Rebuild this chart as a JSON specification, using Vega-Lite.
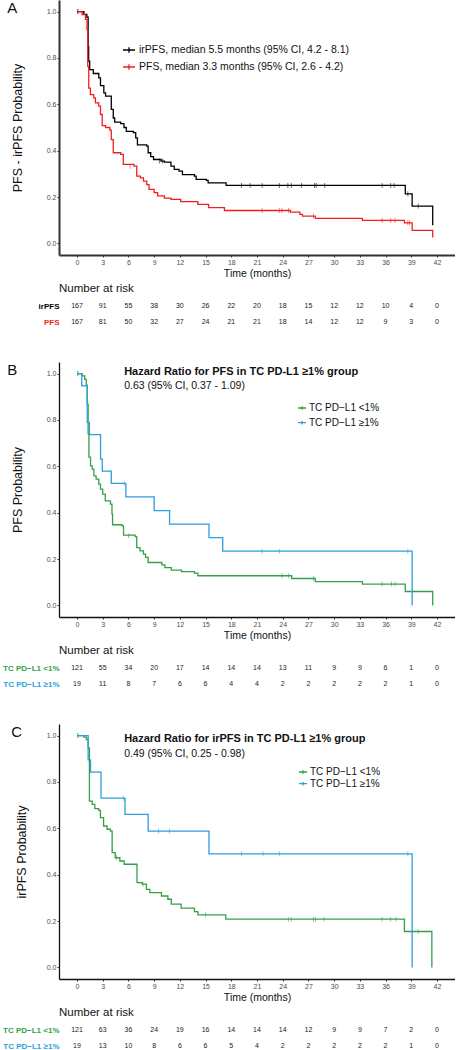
{
  "$schema": "https://vega.github.io/schema/vega-lite/v6.json",
  "padding": {"left": 2, "top": 0, "right": 0, "bottom": 0},
  "autosize": {"type": "pad"},
  "spacing": 32,
  "config": {
    "font": "Liberation Sans",
    "view": {"stroke": null},
    "axis": {"grid": false, "labelFont": "Liberation Sans", "titleFont": "Liberation Sans", "labelColor": "#4d4d4d", "titleColor": "#111111", "titleFontWeight": "normal", "tickColor": "#333333", "domainColor": "#333333", "labelFontSize": 7, "labelPadding": 1, "tickSize": 2, "labelOverlap": false},
    "axisX": {"labelOverlap": false, "labelSeparation": 0},
    "title": {"font": "Liberation Sans", "fontWeight": "normal", "color": "#111111"},
    "legend": {"labelFont": "Liberation Sans", "labelColor": "#111111", "padding": 0, "labelLimit": 400, "symbolStrokeWidth": 1.3, "symbolType": "M-1,0H1M0,-0.45V0.45"}
  },
  "datasets": {
    "a_curve": [
      {"g":"irPFS","t":0,"s":1},{"g":"irPFS","t":0.8,"s":0.988},{"g":"irPFS","t":1.15,"s":0.976},{"g":"irPFS","t":1.3,"s":0.85},{"g":"irPFS","t":1.36,"s":0.786},{"g":"irPFS","t":1.48,"s":0.75},{"g":"irPFS","t":1.9,"s":0.733},{"g":"irPFS","t":2.54,"s":0.714},{"g":"irPFS","t":2.74,"s":0.681},{"g":"irPFS","t":3.13,"s":0.649},{"g":"irPFS","t":3.33,"s":0.635},{"g":"irPFS","t":4.0,"s":0.578},{"g":"irPFS","t":4.23,"s":0.541},{"g":"irPFS","t":4.4,"s":0.523},{"g":"irPFS","t":5.1,"s":0.517},{"g":"irPFS","t":5.48,"s":0.5},{"g":"irPFS","t":5.75,"s":0.483},{"g":"irPFS","t":6.58,"s":0.478},{"g":"irPFS","t":6.85,"s":0.455},{"g":"irPFS","t":7.05,"s":0.425},{"g":"irPFS","t":8.14,"s":0.42},{"g":"irPFS","t":8.3,"s":0.391},{"g":"irPFS","t":8.6,"s":0.374},{"g":"irPFS","t":8.93,"s":0.362},{"g":"irPFS","t":9.8,"s":0.355},{"g":"irPFS","t":10.2,"s":0.351},{"g":"irPFS","t":10.96,"s":0.333},{"g":"irPFS","t":11.35,"s":0.319},{"g":"irPFS","t":11.9,"s":0.312},{"g":"irPFS","t":12.3,"s":0.297},{"g":"irPFS","t":13.7,"s":0.29},{"g":"irPFS","t":13.9,"s":0.276},{"g":"irPFS","t":15.1,"s":0.272},{"g":"irPFS","t":15.3,"s":0.261},{"g":"irPFS","t":17.4,"s":0.25},{"g":"irPFS","t":38.3,"s":0.214},{"g":"irPFS","t":39.1,"s":0.161},{"g":"irPFS","t":41.5,"s":0.078},
      {"g":"PFS","t":0,"s":1},{"g":"PFS","t":0.59,"s":0.987},{"g":"PFS","t":0.98,"s":0.966},{"g":"PFS","t":1.17,"s":0.922},{"g":"PFS","t":1.25,"s":0.764},{"g":"PFS","t":1.37,"s":0.67},{"g":"PFS","t":1.56,"s":0.642},{"g":"PFS","t":1.95,"s":0.628},{"g":"PFS","t":2.15,"s":0.606},{"g":"PFS","t":2.54,"s":0.592},{"g":"PFS","t":2.74,"s":0.556},{"g":"PFS","t":2.94,"s":0.508},{"g":"PFS","t":3.33,"s":0.5},{"g":"PFS","t":3.83,"s":0.489},{"g":"PFS","t":4.0,"s":0.448},{"g":"PFS","t":4.23,"s":0.391},{"g":"PFS","t":5.1,"s":0.384},{"g":"PFS","t":5.4,"s":0.341},{"g":"PFS","t":6.65,"s":0.333},{"g":"PFS","t":6.97,"s":0.29},{"g":"PFS","t":7.4,"s":0.283},{"g":"PFS","t":7.75,"s":0.269},{"g":"PFS","t":8.14,"s":0.254},{"g":"PFS","t":8.4,"s":0.233},{"g":"PFS","t":9.0,"s":0.219},{"g":"PFS","t":9.4,"s":0.205},{"g":"PFS","t":10.2,"s":0.195},{"g":"PFS","t":10.96,"s":0.19},{"g":"PFS","t":12.1,"s":0.18},{"g":"PFS","t":14.1,"s":0.168},{"g":"PFS","t":15.35,"s":0.154},{"g":"PFS","t":17.2,"s":0.142},{"g":"PFS","t":24.9,"s":0.135},{"g":"PFS","t":26.0,"s":0.125},{"g":"PFS","t":26.3,"s":0.118},{"g":"PFS","t":27.8,"s":0.108},{"g":"PFS","t":33.3,"s":0.099},{"g":"PFS","t":38.2,"s":0.089},{"g":"PFS","t":39.1,"s":0.056},{"g":"PFS","t":41.5,"s":0.025}
    ],
    "a_cens": [
      {"g":"irPFS","t":0.1,"s":1},{"g":"irPFS","t":9.6,"s":0.355},{"g":"irPFS","t":10.0,"s":0.355},{"g":"irPFS","t":19.2,"s":0.25},{"g":"irPFS","t":20.2,"s":0.25},{"g":"irPFS","t":21.6,"s":0.25},{"g":"irPFS","t":23.6,"s":0.25},{"g":"irPFS","t":24.6,"s":0.25},{"g":"irPFS","t":25.0,"s":0.25},{"g":"irPFS","t":26.2,"s":0.25},{"g":"irPFS","t":27.7,"s":0.25},{"g":"irPFS","t":27.9,"s":0.25},{"g":"irPFS","t":28.9,"s":0.25},{"g":"irPFS","t":35.6,"s":0.25},{"g":"irPFS","t":36.6,"s":0.25},{"g":"irPFS","t":37.0,"s":0.25},{"g":"irPFS","t":38.6,"s":0.214},{"g":"irPFS","t":39.8,"s":0.161},
      {"g":"PFS","t":0.1,"s":1},{"g":"PFS","t":6.2,"s":0.333},{"g":"PFS","t":21.6,"s":0.142},{"g":"PFS","t":23.6,"s":0.142},{"g":"PFS","t":23.9,"s":0.142},{"g":"PFS","t":24.7,"s":0.142},{"g":"PFS","t":27.6,"s":0.118},{"g":"PFS","t":35.6,"s":0.099},{"g":"PFS","t":36.6,"s":0.099},{"g":"PFS","t":37.1,"s":0.099},{"g":"PFS","t":38.6,"s":0.089},{"g":"PFS","t":38.8,"s":0.089}
    ],
    "a_risk": [
      {"g":"irPFS","t":0,"n":167},{"g":"irPFS","t":3,"n":91},{"g":"irPFS","t":6,"n":55},{"g":"irPFS","t":9,"n":38},{"g":"irPFS","t":12,"n":30},{"g":"irPFS","t":15,"n":26},{"g":"irPFS","t":18,"n":22},{"g":"irPFS","t":21,"n":20},{"g":"irPFS","t":24,"n":18},{"g":"irPFS","t":27,"n":15},{"g":"irPFS","t":30,"n":12},{"g":"irPFS","t":33,"n":12},{"g":"irPFS","t":36,"n":10},{"g":"irPFS","t":39,"n":4},{"g":"irPFS","t":42,"n":0},
      {"g":"PFS","t":0,"n":167},{"g":"PFS","t":3,"n":81},{"g":"PFS","t":6,"n":50},{"g":"PFS","t":9,"n":32},{"g":"PFS","t":12,"n":27},{"g":"PFS","t":15,"n":24},{"g":"PFS","t":18,"n":21},{"g":"PFS","t":21,"n":21},{"g":"PFS","t":24,"n":18},{"g":"PFS","t":27,"n":14},{"g":"PFS","t":30,"n":12},{"g":"PFS","t":33,"n":12},{"g":"PFS","t":36,"n":9},{"g":"PFS","t":39,"n":3},{"g":"PFS","t":42,"n":0}
    ],
    "b_curve": [
      {"g":"TC PD−L1 <1%","t":0,"s":1},{"g":"TC PD−L1 <1%","t":0.6,"s":0.99},{"g":"TC PD−L1 <1%","t":0.9,"s":0.975},{"g":"TC PD−L1 <1%","t":1.08,"s":0.95},{"g":"TC PD−L1 <1%","t":1.19,"s":0.868},{"g":"TC PD−L1 <1%","t":1.3,"s":0.74},{"g":"TC PD−L1 <1%","t":1.39,"s":0.64},{"g":"TC PD−L1 <1%","t":1.58,"s":0.602},{"g":"TC PD−L1 <1%","t":1.77,"s":0.588},{"g":"TC PD−L1 <1%","t":1.97,"s":0.559},{"g":"TC PD−L1 <1%","t":2.23,"s":0.545},{"g":"TC PD−L1 <1%","t":2.54,"s":0.523},{"g":"TC PD−L1 <1%","t":2.74,"s":0.502},{"g":"TC PD−L1 <1%","t":3.0,"s":0.48},{"g":"TC PD−L1 <1%","t":3.3,"s":0.451},{"g":"TC PD−L1 <1%","t":3.9,"s":0.437},{"g":"TC PD−L1 <1%","t":4.08,"s":0.394},{"g":"TC PD−L1 <1%","t":4.15,"s":0.348},{"g":"TC PD−L1 <1%","t":5.24,"s":0.343},{"g":"TC PD−L1 <1%","t":5.43,"s":0.303},{"g":"TC PD−L1 <1%","t":6.78,"s":0.297},{"g":"TC PD−L1 <1%","t":6.97,"s":0.249},{"g":"TC PD−L1 <1%","t":7.35,"s":0.235},{"g":"TC PD−L1 <1%","t":7.75,"s":0.221},{"g":"TC PD−L1 <1%","t":8.0,"s":0.207},{"g":"TC PD−L1 <1%","t":8.3,"s":0.185},{"g":"TC PD−L1 <1%","t":9.9,"s":0.175},{"g":"TC PD−L1 <1%","t":10.25,"s":0.163},{"g":"TC PD−L1 <1%","t":11.0,"s":0.152},{"g":"TC PD−L1 <1%","t":12.2,"s":0.146},{"g":"TC PD−L1 <1%","t":13.7,"s":0.139},{"g":"TC PD−L1 <1%","t":14.1,"s":0.128},{"g":"TC PD−L1 <1%","t":25.05,"s":0.116},{"g":"TC PD−L1 <1%","t":27.8,"s":0.103},{"g":"TC PD−L1 <1%","t":33.3,"s":0.092},{"g":"TC PD−L1 <1%","t":38.3,"s":0.06},{"g":"TC PD−L1 <1%","t":41.5,"s":0.0},
      {"g":"TC PD−L1 ≥1%","t":0,"s":1},{"g":"TC PD−L1 ≥1%","t":0.55,"s":0.947},{"g":"TC PD−L1 ≥1%","t":1.2,"s":0.789},{"g":"TC PD−L1 ≥1%","t":1.45,"s":0.737},{"g":"TC PD−L1 ≥1%","t":2.75,"s":0.631},{"g":"TC PD−L1 ≥1%","t":2.95,"s":0.579},{"g":"TC PD−L1 ≥1%","t":4.0,"s":0.526},{"g":"TC PD−L1 ≥1%","t":5.7,"s":0.468},{"g":"TC PD−L1 ≥1%","t":9.0,"s":0.409},{"g":"TC PD−L1 ≥1%","t":10.8,"s":0.351},{"g":"TC PD−L1 ≥1%","t":15.4,"s":0.292},{"g":"TC PD−L1 ≥1%","t":17.0,"s":0.234},{"g":"TC PD−L1 ≥1%","t":39.1,"s":0.0}
    ],
    "b_cens": [
      {"g":"TC PD−L1 <1%","t":0.1,"s":1},{"g":"TC PD−L1 <1%","t":6.0,"s":0.3},{"g":"TC PD−L1 <1%","t":23.9,"s":0.128},{"g":"TC PD−L1 <1%","t":24.7,"s":0.128},{"g":"TC PD−L1 <1%","t":27.6,"s":0.116},{"g":"TC PD−L1 <1%","t":35.6,"s":0.092},{"g":"TC PD−L1 <1%","t":36.7,"s":0.092},{"g":"TC PD−L1 <1%","t":37.1,"s":0.092},
      {"g":"TC PD−L1 ≥1%","t":0.1,"s":1},{"g":"TC PD−L1 ≥1%","t":5.5,"s":0.526},{"g":"TC PD−L1 ≥1%","t":21.6,"s":0.234},{"g":"TC PD−L1 ≥1%","t":23.6,"s":0.234},{"g":"TC PD−L1 ≥1%","t":38.6,"s":0.234}
    ],
    "b_risk": [
      {"g":"TC PD−L1 <1%","t":0,"n":121},{"g":"TC PD−L1 <1%","t":3,"n":55},{"g":"TC PD−L1 <1%","t":6,"n":34},{"g":"TC PD−L1 <1%","t":9,"n":20},{"g":"TC PD−L1 <1%","t":12,"n":17},{"g":"TC PD−L1 <1%","t":15,"n":14},{"g":"TC PD−L1 <1%","t":18,"n":14},{"g":"TC PD−L1 <1%","t":21,"n":14},{"g":"TC PD−L1 <1%","t":24,"n":13},{"g":"TC PD−L1 <1%","t":27,"n":11},{"g":"TC PD−L1 <1%","t":30,"n":9},{"g":"TC PD−L1 <1%","t":33,"n":9},{"g":"TC PD−L1 <1%","t":36,"n":6},{"g":"TC PD−L1 <1%","t":39,"n":1},{"g":"TC PD−L1 <1%","t":42,"n":0},
      {"g":"TC PD−L1 ≥1%","t":0,"n":19},{"g":"TC PD−L1 ≥1%","t":3,"n":11},{"g":"TC PD−L1 ≥1%","t":6,"n":8},{"g":"TC PD−L1 ≥1%","t":9,"n":7},{"g":"TC PD−L1 ≥1%","t":12,"n":6},{"g":"TC PD−L1 ≥1%","t":15,"n":6},{"g":"TC PD−L1 ≥1%","t":18,"n":4},{"g":"TC PD−L1 ≥1%","t":21,"n":4},{"g":"TC PD−L1 ≥1%","t":24,"n":2},{"g":"TC PD−L1 ≥1%","t":27,"n":2},{"g":"TC PD−L1 ≥1%","t":30,"n":2},{"g":"TC PD−L1 ≥1%","t":33,"n":2},{"g":"TC PD−L1 ≥1%","t":36,"n":2},{"g":"TC PD−L1 ≥1%","t":39,"n":1},{"g":"TC PD−L1 ≥1%","t":42,"n":0}
    ],
    "c_curve": [
      {"g":"TC PD−L1 <1%","t":0,"s":1},{"g":"TC PD−L1 <1%","t":0.8,"s":0.993},{"g":"TC PD−L1 <1%","t":1.1,"s":0.983},{"g":"TC PD−L1 <1%","t":1.3,"s":0.947},{"g":"TC PD−L1 <1%","t":1.45,"s":0.717},{"g":"TC PD−L1 <1%","t":1.77,"s":0.703},{"g":"TC PD−L1 <1%","t":2.08,"s":0.685},{"g":"TC PD−L1 <1%","t":2.54,"s":0.677},{"g":"TC PD−L1 <1%","t":2.73,"s":0.646},{"g":"TC PD−L1 <1%","t":3.1,"s":0.61},{"g":"TC PD−L1 <1%","t":3.5,"s":0.596},{"g":"TC PD−L1 <1%","t":3.9,"s":0.588},{"g":"TC PD−L1 <1%","t":4.1,"s":0.495},{"g":"TC PD−L1 <1%","t":4.46,"s":0.473},{"g":"TC PD−L1 <1%","t":5.0,"s":0.459},{"g":"TC PD−L1 <1%","t":5.5,"s":0.445},{"g":"TC PD−L1 <1%","t":7.0,"s":0.366},{"g":"TC PD−L1 <1%","t":7.6,"s":0.359},{"g":"TC PD−L1 <1%","t":8.1,"s":0.337},{"g":"TC PD−L1 <1%","t":8.5,"s":0.323},{"g":"TC PD−L1 <1%","t":9.85,"s":0.308},{"g":"TC PD−L1 <1%","t":10.6,"s":0.294},{"g":"TC PD−L1 <1%","t":11.0,"s":0.273},{"g":"TC PD−L1 <1%","t":12.15,"s":0.256},{"g":"TC PD−L1 <1%","t":13.7,"s":0.241},{"g":"TC PD−L1 <1%","t":14.1,"s":0.227},{"g":"TC PD−L1 <1%","t":17.35,"s":0.208},{"g":"TC PD−L1 <1%","t":38.2,"s":0.155},{"g":"TC PD−L1 <1%","t":41.4,"s":0.0},
      {"g":"TC PD−L1 ≥1%","t":0,"s":1},{"g":"TC PD−L1 ≥1%","t":1.3,"s":0.895},{"g":"TC PD−L1 ≥1%","t":1.58,"s":0.842},{"g":"TC PD−L1 ≥1%","t":2.8,"s":0.73},{"g":"TC PD−L1 ≥1%","t":5.6,"s":0.66},{"g":"TC PD−L1 ≥1%","t":8.3,"s":0.588},{"g":"TC PD−L1 ≥1%","t":15.4,"s":0.49},{"g":"TC PD−L1 ≥1%","t":39.1,"s":0.0}
    ],
    "c_cens": [
      {"g":"TC PD−L1 <1%","t":0.1,"s":1},{"g":"TC PD−L1 <1%","t":4.6,"s":0.473},{"g":"TC PD−L1 <1%","t":7.7,"s":0.359},{"g":"TC PD−L1 <1%","t":15.0,"s":0.227},{"g":"TC PD−L1 <1%","t":24.65,"s":0.208},{"g":"TC PD−L1 <1%","t":25.0,"s":0.208},{"g":"TC PD−L1 <1%","t":27.6,"s":0.208},{"g":"TC PD−L1 <1%","t":27.8,"s":0.208},{"g":"TC PD−L1 <1%","t":28.8,"s":0.208},{"g":"TC PD−L1 <1%","t":35.6,"s":0.208},{"g":"TC PD−L1 <1%","t":36.6,"s":0.208},{"g":"TC PD−L1 <1%","t":37.2,"s":0.208},{"g":"TC PD−L1 <1%","t":39.8,"s":0.155},
      {"g":"TC PD−L1 ≥1%","t":0.1,"s":1},{"g":"TC PD−L1 ≥1%","t":5.4,"s":0.73},{"g":"TC PD−L1 ≥1%","t":9.5,"s":0.588},{"g":"TC PD−L1 ≥1%","t":10.8,"s":0.588},{"g":"TC PD−L1 ≥1%","t":19.2,"s":0.49},{"g":"TC PD−L1 ≥1%","t":21.7,"s":0.49},{"g":"TC PD−L1 ≥1%","t":23.6,"s":0.49},{"g":"TC PD−L1 ≥1%","t":38.6,"s":0.49}
    ],
    "c_risk": [
      {"g":"TC PD−L1 <1%","t":0,"n":121},{"g":"TC PD−L1 <1%","t":3,"n":63},{"g":"TC PD−L1 <1%","t":6,"n":36},{"g":"TC PD−L1 <1%","t":9,"n":24},{"g":"TC PD−L1 <1%","t":12,"n":19},{"g":"TC PD−L1 <1%","t":15,"n":16},{"g":"TC PD−L1 <1%","t":18,"n":14},{"g":"TC PD−L1 <1%","t":21,"n":14},{"g":"TC PD−L1 <1%","t":24,"n":14},{"g":"TC PD−L1 <1%","t":27,"n":12},{"g":"TC PD−L1 <1%","t":30,"n":9},{"g":"TC PD−L1 <1%","t":33,"n":9},{"g":"TC PD−L1 <1%","t":36,"n":7},{"g":"TC PD−L1 <1%","t":39,"n":2},{"g":"TC PD−L1 <1%","t":42,"n":0},
      {"g":"TC PD−L1 ≥1%","t":0,"n":19},{"g":"TC PD−L1 ≥1%","t":3,"n":13},{"g":"TC PD−L1 ≥1%","t":6,"n":10},{"g":"TC PD−L1 ≥1%","t":9,"n":8},{"g":"TC PD−L1 ≥1%","t":12,"n":6},{"g":"TC PD−L1 ≥1%","t":15,"n":6},{"g":"TC PD−L1 ≥1%","t":18,"n":5},{"g":"TC PD−L1 ≥1%","t":21,"n":4},{"g":"TC PD−L1 ≥1%","t":24,"n":2},{"g":"TC PD−L1 ≥1%","t":27,"n":2},{"g":"TC PD−L1 ≥1%","t":30,"n":2},{"g":"TC PD−L1 ≥1%","t":33,"n":2},{"g":"TC PD−L1 ≥1%","t":36,"n":2},{"g":"TC PD−L1 ≥1%","t":39,"n":1},{"g":"TC PD−L1 ≥1%","t":42,"n":0}
    ]
  },
  "resolve": {"scale": {"x": "independent", "y": "independent", "color": "independent"}, "legend": {"color": "independent"}},
  "vconcat": [
    {
      "bounds": "flush",
      "spacing": 43,
      "resolve": {"scale": {"x": "independent", "y": "independent", "color": "independent"}, "legend": {"color": "independent"}},
      "vconcat": [
        {
          "width": 396, "height": 255,
          "title": {"text": "A", "anchor": "start", "frame": "bounds", "offset": -16, "fontSize": 15, "dx": -4},
          "encoding": {
            "x": {"field": "t", "type": "quantitative", "scale": {"domain": [-2.1, 44.1], "nice": false, "zero": false}, "axis": {"values": [0,3,6,9,12,15,18,21,24,27,30,33,36,39,42], "title": "Time (months)", "titleFontSize": 10.5, "titlePadding": 3, "domainWidth": 2, "labelFlush": false, "labelOverlap": false, "labelSeparation": 0}},
            "y": {"field": "s", "type": "quantitative", "scale": {"domain": [-0.05, 1.05], "nice": false, "zero": false}, "axis": {"values": [0,0.2,0.4,0.6,0.8,1], "format": ".1f", "title": "PFS - irPFS Probability", "titleFontSize": 12.5, "titlePadding": 22, "domainWidth": 2}}
          },
          "layer": [
            {
              "data": {"name": "a_curve"},
              "mark": {"type": "line", "interpolate": "step-after", "strokeWidth": 1.3},
              "encoding": {
                "color": {"field": "g", "type": "nominal", "scale": {"domain": ["irPFS", "PFS"], "range": ["#000000", "#f01f1f"]}, "legend": {"orient": "none", "legendX": 63, "legendY": 43, "title": null, "symbolSize": 144, "labelFontSize": 10.5, "rowPadding": 4, "labelOffset": 3, "labelExpr": "datum.label == 'irPFS' ? 'irPFS, median 5.5 months (95% CI, 4.2 - 8.1)' : 'PFS, median 3.3 months (95% CI, 2.6 - 4.2)'"}}
              }
            },
            {
              "data": {"name": "a_cens"},
              "mark": {"type": "tick", "orient": "vertical", "size": 5, "thickness": 0.8},
              "encoding": {
                "color": {"field": "g", "type": "nominal", "legend": null}
              }
            }
          ]
        },
        {
          "width": 396, "height": 32,
          "data": {"name": "a_risk"},
          "title": {"text": "Number at risk", "anchor": "start", "frame": "group", "fontSize": 11.5, "offset": 4},
          "mark": {"type": "text", "fontSize": 7, "color": "#222222"},
          "encoding": {
            "x": {"field": "t", "type": "quantitative", "scale": {"domain": [-2.1, 44.1], "nice": false, "zero": false}, "axis": null},
            "y": {"field": "g", "type": "nominal", "sort": ["irPFS", "PFS"], "axis": {"title": null, "domain": false, "ticks": false, "labelFontWeight": "bold", "labelFontSize": 8, "labelPadding": 0, "labelColor": {"condition": {"test": "datum.value == 'PFS'", "value": "#f01f1f"}, "value": "#000000"}}},
            "text": {"field": "n", "type": "quantitative"}
          }
        }
      ]
    },
    {
      "bounds": "flush",
      "spacing": 43,
      "resolve": {"scale": {"x": "independent", "y": "independent", "color": "independent"}, "legend": {"color": "independent"}},
      "vconcat": [
        {
          "width": 396, "height": 255,
          "title": {"text": "B", "anchor": "start", "frame": "bounds", "offset": -16, "fontSize": 15, "dx": -4},
          "encoding": {
            "x": {"field": "t", "type": "quantitative", "scale": {"domain": [-2.1, 44.1], "nice": false, "zero": false}, "axis": {"values": [0,3,6,9,12,15,18,21,24,27,30,33,36,39,42], "title": "Time (months)", "titleFontSize": 10.5, "titlePadding": 3, "domainWidth": 1.3, "domainColor": "#111111", "labelFlush": false, "labelOverlap": false, "labelSeparation": 0}},
            "y": {"field": "s", "type": "quantitative", "scale": {"domain": [-0.05, 1.05], "nice": false, "zero": false}, "axis": {"values": [0,0.2,0.4,0.6,0.8,1], "format": ".1f", "title": "PFS Probability", "titleFontSize": 12.5, "titlePadding": 22, "domainWidth": 1.3, "domainColor": "#111111"}}
          },
          "layer": [
            {
              "data": {"name": "b_curve"},
              "mark": {"type": "line", "interpolate": "step-after", "strokeWidth": 1.3},
              "encoding": {
                "color": {"field": "g", "type": "nominal", "scale": {"domain": ["TC PD−L1 <1%", "TC PD−L1 ≥1%"], "range": ["#34a048", "#2b9fdb"]}, "legend": {"orient": "none", "legendX": 238, "legendY": 41, "title": null, "symbolSize": 64, "labelFontSize": 10, "rowPadding": 4.7, "labelOffset": 2}}
              }
            },
            {
              "data": {"name": "b_cens"},
              "mark": {"type": "tick", "orient": "vertical", "size": 5, "thickness": 0.8},
              "encoding": {
                "color": {"field": "g", "type": "nominal", "legend": null}
              }
            },
            {
              "data": {"values": [{"t": 5.5, "s": 1.008}]},
              "mark": {"type": "text", "align": "left", "baseline": "middle", "fontSize": 11, "fontWeight": "bold", "color": "#111111"},
              "encoding": {"text": {"value": "Hazard Ratio for PFS in TC PD-L1 ≥1% group"}}
            },
            {
              "data": {"values": [{"t": 5.5, "s": 0.948}]},
              "mark": {"type": "text", "align": "left", "baseline": "middle", "fontSize": 10.5, "color": "#111111"},
              "encoding": {"text": {"value": "0.63 (95% CI, 0.37 - 1.09)"}}
            }
          ]
        },
        {
          "width": 396, "height": 32,
          "data": {"name": "b_risk"},
          "title": {"text": "Number at risk", "anchor": "start", "frame": "group", "fontSize": 11.5, "offset": 4},
          "mark": {"type": "text", "fontSize": 7, "color": "#222222"},
          "encoding": {
            "x": {"field": "t", "type": "quantitative", "scale": {"domain": [-2.1, 44.1], "nice": false, "zero": false}, "axis": null},
            "y": {"field": "g", "type": "nominal", "sort": ["TC PD−L1 <1%", "TC PD−L1 ≥1%"], "axis": {"title": null, "domain": false, "ticks": false, "labelFontWeight": "bold", "labelFontSize": 8, "labelPadding": 0, "labelColor": {"condition": {"test": "datum.value == 'TC PD−L1 <1%'", "value": "#34a048"}, "value": "#2b9fdb"}}},
            "text": {"field": "n", "type": "quantitative"}
          }
        }
      ]
    },
    {
      "bounds": "flush",
      "spacing": 43,
      "resolve": {"scale": {"x": "independent", "y": "independent", "color": "independent"}, "legend": {"color": "independent"}},
      "vconcat": [
        {
          "width": 396, "height": 255,
          "title": {"text": "C", "anchor": "start", "frame": "bounds", "offset": -16, "fontSize": 15, "dx": -4},
          "encoding": {
            "x": {"field": "t", "type": "quantitative", "scale": {"domain": [-2.1, 44.1], "nice": false, "zero": false}, "axis": {"values": [0,3,6,9,12,15,18,21,24,27,30,33,36,39,42], "title": "Time (months)", "titleFontSize": 10.5, "titlePadding": 3, "domainWidth": 1.3, "domainColor": "#111111", "labelFlush": false, "labelOverlap": false, "labelSeparation": 0}},
            "y": {"field": "s", "type": "quantitative", "scale": {"domain": [-0.05, 1.05], "nice": false, "zero": false}, "axis": {"values": [0,0.2,0.4,0.6,0.8,1], "format": ".1f", "title": "irPFS Probability", "titleFontSize": 12.5, "titlePadding": 18, "domainWidth": 1.3, "domainColor": "#111111"}}
          },
          "layer": [
            {
              "data": {"name": "c_curve"},
              "mark": {"type": "line", "interpolate": "step-after", "strokeWidth": 1.3},
              "encoding": {
                "color": {"field": "g", "type": "nominal", "scale": {"domain": ["TC PD−L1 <1%", "TC PD−L1 ≥1%"], "range": ["#34a048", "#2b9fdb"]}, "legend": {"orient": "none", "legendX": 239, "legendY": 43, "title": null, "symbolSize": 64, "labelFontSize": 10, "rowPadding": 1.7, "labelOffset": 2}}
              }
            },
            {
              "data": {"name": "c_cens"},
              "mark": {"type": "tick", "orient": "vertical", "size": 5, "thickness": 0.8},
              "encoding": {
                "color": {"field": "g", "type": "nominal", "legend": null}
              }
            },
            {
              "data": {"values": [{"t": 5.5, "s": 0.984}]},
              "mark": {"type": "text", "align": "left", "baseline": "middle", "fontSize": 11, "fontWeight": "bold", "color": "#111111"},
              "encoding": {"text": {"value": "Hazard Ratio for irPFS in TC PD-L1 ≥1% group"}}
            },
            {
              "data": {"values": [{"t": 5.5, "s": 0.922}]},
              "mark": {"type": "text", "align": "left", "baseline": "middle", "fontSize": 10.5, "color": "#111111"},
              "encoding": {"text": {"value": "0.49 (95% CI, 0.25 - 0.98)"}}
            }
          ]
        },
        {
          "width": 396, "height": 32,
          "data": {"name": "c_risk"},
          "title": {"text": "Number at risk", "anchor": "start", "frame": "group", "fontSize": 11.5, "offset": 4},
          "mark": {"type": "text", "fontSize": 7, "color": "#222222"},
          "encoding": {
            "x": {"field": "t", "type": "quantitative", "scale": {"domain": [-2.1, 44.1], "nice": false, "zero": false}, "axis": null},
            "y": {"field": "g", "type": "nominal", "sort": ["TC PD−L1 <1%", "TC PD−L1 ≥1%"], "axis": {"title": null, "domain": false, "ticks": false, "labelFontWeight": "bold", "labelFontSize": 8, "labelPadding": 0, "labelColor": {"condition": {"test": "datum.value == 'TC PD−L1 <1%'", "value": "#34a048"}, "value": "#2b9fdb"}}},
            "text": {"field": "n", "type": "quantitative"}
          }
        }
      ]
    }
  ]
}
